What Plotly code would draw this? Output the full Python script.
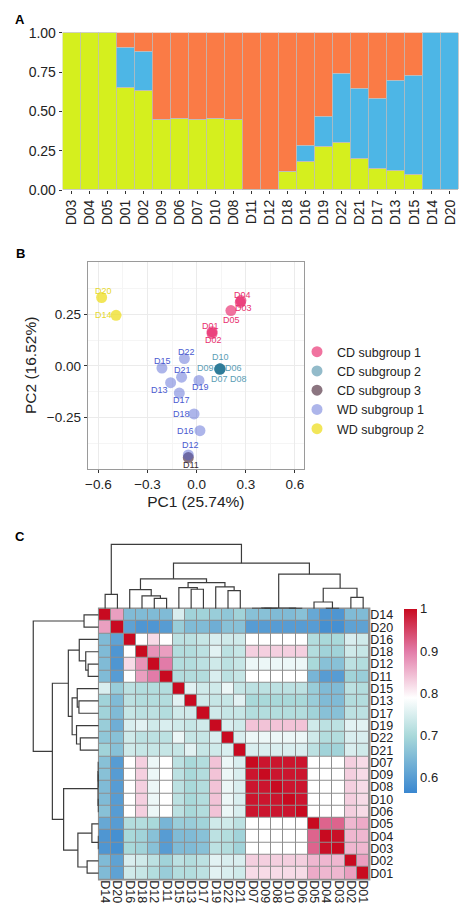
import plotly.graph_objects as go

W, H = 474, 923
OFF = 8  # default page body margin shifts the figure
FONT = "Liberation Sans, Arial, sans-serif"
TXT = "#222222"

# ---------- A: ancestry proportions (stacked bars) ----------
samples_a = ["D03", "D04", "D05", "D01", "D02", "D09", "D06", "D07", "D10", "D08", "D11",
             "D12", "D18", "D16", "D19", "D22", "D21", "D17", "D13", "D15", "D14", "D20"]
green_a = [1, 1, 1, 0.650, 0.629, 0.447, 0.451, 0.447, 0.451, 0.447, 0, 0,
           0.117, 0.180, 0.273, 0.303, 0.201, 0.136, 0.123, 0.097, 0, 0]
blue_a = [0, 0, 0, 0.253, 0.252, 0, 0, 0, 0, 0, 0, 0,
          0, 0.100, 0.193, 0.436, 0.443, 0.445, 0.574, 0.632, 1, 1]
orange_a = [0, 0, 0, 0.097, 0.119, 0.553, 0.549, 0.553, 0.549, 0.553, 1, 1,
            0.883, 0.720, 0.534, 0.261, 0.356, 0.419, 0.303, 0.271, 0, 0]

# ---------- B: PCA ----------
samples_b = ["D01", "D02", "D03", "D04", "D05", "D06", "D07", "D08", "D09", "D10", "D11",
             "D12", "D13", "D14", "D15", "D16", "D17", "D18", "D19", "D20", "D21", "D22"]
pc1 = [0.094, 0.094, 0.266, 0.270, 0.209, 0.143, 0.141, 0.142, 0.140, 0.143, -0.051,
       -0.051, -0.159, -0.492, -0.212, 0.020, -0.106, -0.016, 0.014, -0.580, -0.092, -0.075]
pc2 = [0.166, 0.157, 0.307, 0.316, 0.268, -0.015, -0.016, -0.014, -0.015, -0.014, -0.443,
       -0.430, -0.081, 0.245, -0.010, -0.313, -0.131, -0.232, -0.070, 0.331, -0.054, 0.036]
group_b = ["CD subgroup 1"] * 5 + ["CD subgroup 2"] * 5 + ["CD subgroup 3"] + \
          ["WD subgroup 1", "WD subgroup 1", "WD subgroup 2", "WD subgroup 1", "WD subgroup 1",
           "WD subgroup 1", "WD subgroup 1", "WD subgroup 1", "WD subgroup 2", "WD subgroup 1",
           "WD subgroup 1"]
groups = ["CD subgroup 1", "CD subgroup 2", "CD subgroup 3", "WD subgroup 1", "WD subgroup 2"]

# ---------- C: correlation heatmap (lower triangle, clustered order) ----------
heat_names = ["D14", "D20", "D16", "D18", "D12", "D11", "D15", "D13", "D17", "D19", "D22",
              "D21", "D07", "D09", "D08", "D10", "D06", "D05", "D04", "D03", "D02", "D01"]
corr_lower = [
    [1.00],
    [0.87, 1.00],
    [0.65, 0.61, 1.00],
    [0.65, 0.59, 0.79, 1.00],
    [0.65, 0.59, 0.82, 0.88, 1.00],
    [0.65, 0.60, 0.79, 0.87, 0.90, 1.00],
    [0.75, 0.68, 0.72, 0.71, 0.71, 0.71, 1.00],
    [0.69, 0.65, 0.72, 0.71, 0.71, 0.71, 0.76, 1.00],
    [0.69, 0.65, 0.73, 0.72, 0.72, 0.71, 0.74, 0.74, 1.00],
    [0.68, 0.63, 0.75, 0.76, 0.74, 0.75, 0.74, 0.73, 0.74, 1.00],
    [0.67, 0.66, 0.74, 0.72, 0.72, 0.72, 0.77, 0.73, 0.73, 0.75, 1.00],
    [0.69, 0.66, 0.74, 0.73, 0.73, 0.73, 0.73, 0.76, 0.73, 0.74, 0.75, 1.00],
    [0.66, 0.60, 0.79, 0.83, 0.77, 0.79, 0.72, 0.70, 0.71, 0.84, 0.77, 0.75, 1.00],
    [0.66, 0.60, 0.79, 0.83, 0.77, 0.79, 0.72, 0.70, 0.71, 0.84, 0.77, 0.75, 0.99, 1.00],
    [0.65, 0.60, 0.79, 0.83, 0.77, 0.79, 0.72, 0.70, 0.71, 0.84, 0.77, 0.75, 0.99, 0.99, 1.00],
    [0.65, 0.60, 0.79, 0.83, 0.77, 0.79, 0.72, 0.70, 0.71, 0.84, 0.77, 0.75, 0.99, 0.99, 0.99, 1.00],
    [0.66, 0.60, 0.79, 0.83, 0.77, 0.79, 0.72, 0.70, 0.71, 0.84, 0.77, 0.75, 0.99, 0.99, 0.99, 0.99, 1.00],
    [0.62, 0.60, 0.71, 0.71, 0.70, 0.64, 0.68, 0.68, 0.69, 0.74, 0.74, 0.72, 0.79, 0.79, 0.79, 0.79, 0.79, 1.00],
    [0.59, 0.58, 0.70, 0.69, 0.66, 0.60, 0.65, 0.65, 0.66, 0.72, 0.71, 0.69, 0.79, 0.79, 0.79, 0.79, 0.79, 0.92, 1.00],
    [0.59, 0.58, 0.70, 0.69, 0.66, 0.60, 0.65, 0.65, 0.66, 0.72, 0.71, 0.69, 0.79, 0.79, 0.79, 0.79, 0.79, 0.92, 0.995, 1.00],
    [0.65, 0.61, 0.75, 0.74, 0.72, 0.69, 0.72, 0.71, 0.72, 0.76, 0.75, 0.75, 0.83, 0.83, 0.83, 0.83, 0.83, 0.85, 0.85, 0.85, 1.00],
    [0.65, 0.61, 0.74, 0.73, 0.71, 0.68, 0.71, 0.71, 0.72, 0.76, 0.75, 0.74, 0.82, 0.82, 0.82, 0.82, 0.82, 0.86, 0.85, 0.85, 0.87, 1.00],
]
# hierarchical merges: (left, right, height); "mK" = result of merge K
linkage = [
    ("D14", "D20", 0.224), ("D12", "D11", 0.161), ("D18", "m1", 0.198), ("D16", "m2", 0.297),
    ("D13", "D17", 0.302), ("D15", "m4", 0.328), ("D22", "D21", 0.281), ("D19", "m6", 0.339),
    ("m5", "m7", 0.406), ("m3", "m8", 0.464), ("D09", "D08", 0.004), ("D07", "m10", 0.007),
    ("D10", "D06", 0.005), ("m11", "m12", 0.010), ("D04", "D03", 0.005), ("D05", "m14", 0.104),
    ("D02", "D01", 0.177), ("m15", "m16", 0.318), ("m13", "m17", 0.536), ("m9", "m18", 0.708),
    ("m0", "m19", 1.000),
]


def dx(p):
    return (p - OFF) / W


def dy(p):
    return 1 - (p - OFF) / H


fig = go.Figure()

# ---- panel A
for vals, col in [(green_a, "#d5ef1e"), (blue_a, "#4db6e6"), (orange_a, "#fa7b46")]:
    fig.add_trace(go.Bar(x=samples_a, y=vals, marker=dict(color=col, line=dict(color="#bdbdbd", width=0.8)),
                         showlegend=False, xaxis="x", yaxis="y"))

# ---- panel B
pt_color = {"CD subgroup 1": "rgba(232,40,108,0.65)", "CD subgroup 2": "rgba(40,120,150,0.5)",
            "CD subgroup 3": "rgba(90,58,74,0.7)", "WD subgroup 1": "rgba(74,90,208,0.45)",
            "WD subgroup 2": "rgba(239,224,48,0.8)"}
lab_color = {"CD subgroup 1": "#e8306e", "CD subgroup 2": "#5a9db5", "CD subgroup 3": "#3a2a30",
             "WD subgroup 1": "#4a5ad0", "WD subgroup 2": "#e6d82c"}
for g in groups:
    idx = [i for i, gg in enumerate(group_b) if gg == g]
    fig.add_trace(go.Scatter(x=[pc1[i] for i in idx], y=[pc2[i] for i in idx], mode="markers", name=g,
                             marker=dict(size=11, color=pt_color[g]), xaxis="x2", yaxis="y2"))

# label offsets in pixels (style only)
lab_shift = {"D20": (2, 6), "D14": (-13, 0), "D04": (2, 6), "D03": (3, -6), "D05": (1, -9),
             "D01": (-2, 6), "D02": (1, -7), "D10": (0, 12), "D09": (-14, 1), "D06": (13, 1),
             "D07": (0, -10), "D08": (19, -10), "D22": (2, 7), "D15": (1, 7), "D21": (1, 7),
             "D13": (-11, -7), "D19": (2, -7), "D17": (2, -7), "D18": (-13, 0), "D16": (-14, 0),
             "D12": (2, 10), "D11": (3, -7)}
for i, s in enumerate(samples_b):
    sx, sy = lab_shift[s]
    fig.add_annotation(x=pc1[i], y=pc2[i], xref="x2", yref="y2", text=s, showarrow=False,
                       xanchor="center", yanchor="middle", xshift=sx, yshift=sy,
                       font=dict(size=9, color=lab_color[group_b[i]], family=FONT))

# ---- panel C heatmap
n = len(heat_names)
z = [[0.0] * n for _ in range(n)]
for i, row in enumerate(corr_lower):
    for j, v in enumerate(row):
        z[i][j] = v
        z[j][i] = v
zmin, zmax = 0.565, 1.0
stops = [(0.565, "#3a87d0"), (0.70, "#a9d9da"), (0.79, "#ffffff"), (0.90, "#e27ba8"), (1.0, "#c80a20")]
cscale = [[(v - zmin) / (zmax - zmin), c] for v, c in stops]
fig.add_trace(go.Heatmap(z=z, x=list(range(n)), y=list(range(n)), colorscale=cscale, zmin=zmin, zmax=zmax,
                         xgap=1, ygap=1, xaxis="x3", yaxis="y3",
                         colorbar=dict(x=dx(404), xanchor="left", y=dy(608.7), yanchor="top",
                                       len=184 / H, lenmode="fraction", thickness=12.7, xpad=0, ypad=0,
                                       outlinewidth=0, ticks="", tickvals=[0.6, 0.7, 0.8, 0.9, 1.0],
                                       ticktext=["0.6", "0.7", "0.8", "0.9", "1"],
                                       tickfont=dict(size=13, color=TXT, family=FONT))))

# dendrograms from the merge list
pos = {name: i for i, name in enumerate(heat_names)}
hgt = {name: 0.0 for name in heat_names}
seg_p, seg_h = [], []
for k, (a, b, h) in enumerate(linkage):
    seg_p += [pos[a], pos[a], pos[b], pos[b], None]
    seg_h += [hgt[a], h, h, hgt[b], None]
    pos[f"m{k}"] = (pos[a] + pos[b]) / 2
    hgt[f"m{k}"] = h
dline = dict(color="#3c3c3c", width=1.2)
fig.add_trace(go.Scatter(x=seg_p, y=seg_h, mode="lines", line=dline, showlegend=False, hoverinfo="skip",
                         xaxis="x4", yaxis="y4"))
fig.add_trace(go.Scatter(x=seg_h, y=seg_p, mode="lines", line=dline, showlegend=False, hoverinfo="skip",
                         xaxis="x5", yaxis="y5"))

# grey cell borders behind the heatmap
fig.add_shape(type="rect", xref="x3 domain", yref="y3 domain", x0=-0.004, x1=1.004, y0=-0.004, y1=1.004,
              fillcolor="#8f8f8f", line=dict(width=0), layer="below")

# panel letters
for letter, (lx, ly) in {"A": (20, 20), "B": (20, 254), "C": (20, 536)}.items():
    fig.add_annotation(x=dx(lx), y=dy(ly), xref="paper", yref="paper", text=f"<b>{letter}</b>",
                       xanchor="center", yanchor="middle", showarrow=False,
                       font=dict(size=13, color="black", family=FONT))

tickf = dict(size=14, color=TXT, family=FONT)
hidden = dict(visible=False, showgrid=False, zeroline=False, automargin=False)
fig.update_layout(
    width=W, height=H, margin=dict(l=0, r=0, t=0, b=0, autoexpand=False),
    paper_bgcolor="white", plot_bgcolor="white", barmode="stack", bargap=0,
    font=dict(family=FONT, color=TXT),
    xaxis=dict(domain=[dx(62.7), dx(459)], anchor="y", tickangle=-90, tickfont=tickf, ticks="outside",
               ticklen=3, tickcolor="#333", showgrid=False, showline=False, automargin=False),
    yaxis=dict(domain=[dy(190), dy(32.7)], anchor="x", range=[0, 1], tickvals=[0, 0.25, 0.5, 0.75, 1],
               tickformat=".2f", tickfont=tickf, ticks="outside", ticklen=3, tickcolor="#333",
               showgrid=False, zeroline=False, automargin=False),
    xaxis2=dict(domain=[dx(87.7), dx(304)], anchor="y2", range=[-0.665, 0.655], tick0=0, dtick=0.3,
                tickformat=".1f", tickfont=dict(size=13.5, color=TXT), ticks="outside", ticklen=3,
                tickcolor="#333", showline=True, mirror=True, linecolor="#9a9a9a", linewidth=1,
                gridcolor="#ebebeb", zeroline=False, automargin=False,
                minor=dict(dtick=0.15, tick0=0, showgrid=True, gridcolor="#f5f5f5"),
                title=dict(text="PC1 (25.74%)", font=dict(size=15.5, color=TXT), standoff=4)),
    yaxis2=dict(domain=[dy(469), dy(261.7)], anchor="x2", range=[-0.498, 0.504],
                tickvals=[-0.25, 0, 0.25], tickformat=".2f", tickfont=dict(size=13.5, color=TXT),
                ticks="outside", ticklen=3, tickcolor="#333", showline=True, mirror=True,
                linecolor="#9a9a9a", linewidth=1, gridcolor="#ebebeb", zeroline=False, automargin=False,
                minor=dict(dtick=0.125, tick0=0, showgrid=True, gridcolor="#f5f5f5"),
                title=dict(text="PC2 (16.52%)", font=dict(size=15.5, color=TXT), standoff=6)),
    xaxis3=dict(domain=[dx(99), dx(369.3)], anchor="y3", range=[-0.5, n - 0.5], tickvals=list(range(n)),
                ticktext=heat_names, tickangle=90, tickfont=dict(size=12.5, color=TXT), showgrid=False,
                zeroline=False, ticks="", automargin=False),
    yaxis3=dict(domain=[dy(879.3), dy(608.7)], anchor="x3", side="right", range=[n - 0.5, -0.5],
                tickvals=list(range(n)), ticktext=heat_names, tickfont=dict(size=12.5, color=TXT),
                showgrid=False, zeroline=False, ticks="", automargin=False),
    xaxis4=dict(domain=[dx(99), dx(369.3)], anchor="y4", range=[-0.5, n - 0.5], **hidden),
    yaxis4=dict(domain=[dy(608.7), dy(542.4)], anchor="x4", range=[0, 1.03], **hidden),
    xaxis5=dict(domain=[dx(31.3), dx(98.7)], anchor="y5", range=[1.03, 0], **hidden),
    yaxis5=dict(domain=[dy(879.3), dy(608.7)], anchor="x5", range=[n - 0.5, -0.5], **hidden),
    legend=dict(x=dx(297), y=dy(337), xanchor="left", yanchor="top", font=dict(size=12.5, color=TXT),
                bgcolor="rgba(0,0,0,0)", traceorder="normal", tracegroupgap=0, itemwidth=30),
)

fig.write_html("out.html")
